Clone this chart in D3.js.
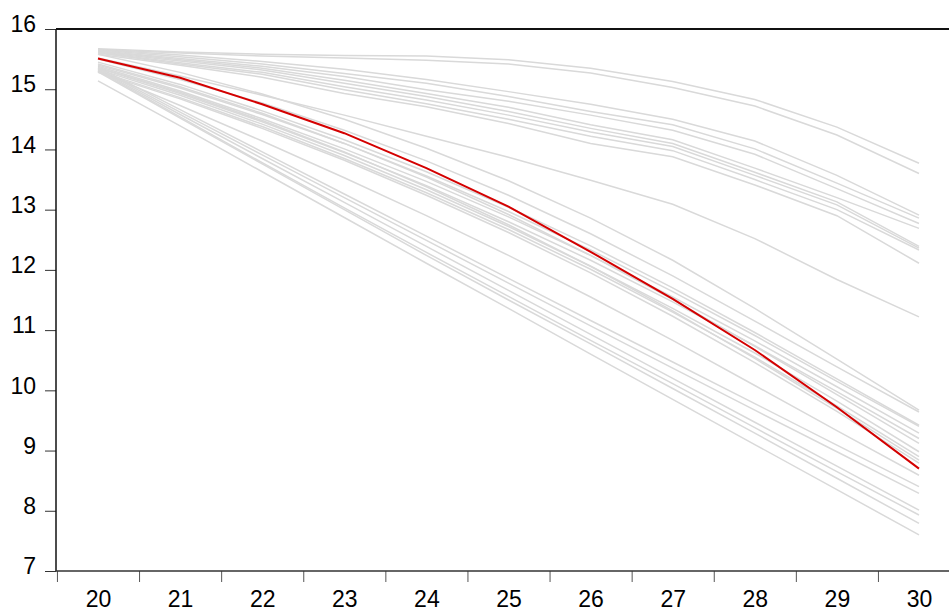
<!DOCTYPE html>
<html>
<head>
<meta charset="utf-8">
<script src="https://cdn.jsdelivr.net/npm/d3@7"></script>
<style>
  body { margin: 0; background: #fff; }
  svg text { font-family: "Liberation Sans", Arial, sans-serif; }
</style>
</head>
<body>
<div id="chart"></div>
<script>
// x categories and y tick labels
const years = [20, 21, 22, 23, 24, 25, 26, 27, 28, 29, 30]
const yTickValues = [7, 8, 9, 10, 11, 12, 13, 14, 15, 16]

// highlighted path (red)
const mainPath = [15.51, 15.19, 14.75, 14.27, 13.69, 13.05, 12.30, 11.52, 10.67, 9.72, 8.70]

// slow-declining paths (top bundle)
const upperPaths = [
  [15.67, 15.62, 15.58, 15.56, 15.55, 15.49, 15.35, 15.13, 14.83, 14.37, 13.77],
  [15.66, 15.60, 15.55, 15.52, 15.48, 15.42, 15.27, 15.03, 14.72, 14.24, 13.60],
  [15.66, 15.57, 15.46, 15.33, 15.16, 14.96, 14.75, 14.50, 14.14, 13.57, 12.91],
  [15.65, 15.54, 15.42, 15.26, 15.10, 14.88, 14.63, 14.41, 14.01, 13.44, 12.86],
  [15.64, 15.51, 15.38, 15.21, 14.99, 14.80, 14.57, 14.32, 13.92, 13.35, 12.77],
  [15.63, 15.49, 15.35, 15.15, 14.93, 14.70, 14.41, 14.16, 13.69, 13.20, 12.69],
  [15.62, 15.47, 15.32, 15.10, 14.88, 14.63, 14.35, 14.10, 13.62, 13.13, 12.39],
  [15.61, 15.44, 15.28, 15.04, 14.82, 14.57, 14.29, 14.05, 13.57, 13.08, 12.36],
  [15.60, 15.42, 15.25, 14.99, 14.76, 14.50, 14.22, 13.98, 13.50, 13.00, 12.33],
  [15.58, 15.40, 15.20, 14.93, 14.71, 14.43, 14.10, 13.88, 13.41, 12.90, 12.11],
  [15.52, 15.22, 14.90, 14.57, 14.22, 13.87, 13.49, 13.09, 12.52, 11.84, 11.22]
]

// fast-declining paths (bottom bundle)
const lowerPaths = [
  [15.58, 15.28, 14.92, 14.50, 14.02, 13.48, 12.86, 12.16, 11.36, 10.52, 9.67],
  [15.50, 15.16, 14.77, 14.32, 13.81, 13.24, 12.60, 11.90, 11.15, 10.39, 9.64],
  [15.45, 15.08, 14.64, 14.16, 13.63, 13.04, 12.40, 11.70, 10.96, 10.19, 9.42],
  [15.40, 15.02, 14.58, 14.10, 13.56, 12.97, 12.33, 11.64, 10.91, 10.15, 9.40],
  [15.38, 14.97, 14.51, 14.01, 13.47, 12.88, 12.24, 11.55, 10.82, 10.06, 9.29],
  [15.35, 14.93, 14.46, 13.95, 13.40, 12.80, 12.16, 11.47, 10.74, 9.98, 9.20],
  [15.42, 15.04, 14.60, 14.10, 13.54, 12.92, 12.24, 11.51, 10.73, 9.93, 9.12],
  [15.33, 14.90, 14.42, 13.90, 13.33, 12.72, 12.06, 11.36, 10.62, 9.82, 8.98],
  [15.30, 14.86, 14.38, 13.85, 13.28, 12.67, 12.01, 11.30, 10.55, 9.74, 8.90],
  [15.36, 14.95, 14.48, 13.96, 13.38, 12.75, 12.06, 11.32, 10.53, 9.70, 8.84],
  [15.28, 14.84, 14.35, 13.82, 13.24, 12.62, 11.95, 11.23, 10.46, 9.65, 8.79],
  [15.30, 14.73, 14.14, 13.53, 12.90, 12.24, 11.55, 10.83, 10.08, 9.33, 8.59],
  [15.36, 14.66, 13.96, 13.26, 12.56, 11.86, 11.16, 10.47, 9.78, 9.09, 8.40],
  [15.34, 14.62, 13.91, 13.20, 12.49, 11.78, 11.07, 10.37, 9.67, 8.98, 8.29],
  [15.32, 14.58, 13.85, 13.12, 12.39, 11.66, 10.93, 10.20, 9.47, 8.74, 8.01],
  [15.31, 14.54, 13.78, 13.03, 12.29, 11.56, 10.83, 10.11, 9.38, 8.65, 7.93],
  [15.29, 14.52, 13.76, 13.00, 12.24, 11.50, 10.77, 10.03, 9.29, 8.54, 7.79],
  [15.14, 14.39, 13.63, 12.87, 12.11, 11.36, 10.60, 9.85, 9.10, 8.35, 7.60]
]

const width = 949
const height = 612
const plot = { left: 56, right: 949, top: 29, bottom: 571 }

const svg = d3.select("#chart")
  .append("svg")
  .attr("width", width)
  .attr("height", height)
  .style("background-color", "#fff")

const x = d3.scaleLinear().domain([20, 30]).range([98, 919])
const y = d3.scaleLinear().domain([7, 16]).range([plot.bottom, plot.top])

const line = d3.line()
  .x((d, i) => x(years[i]))
  .y(d => y(d))

// grey paths first, red on top
svg.append("g")
  .selectAll("path")
  .data(upperPaths.concat(lowerPaths))
  .enter()
  .append("path")
  .attr("d", line)
  .attr("fill", "none")
  .attr("stroke", "#d9d9d9")
  .attr("stroke-width", 1.5)

svg.append("path")
  .attr("d", line(mainPath))
  .attr("fill", "none")
  .attr("stroke", "#d40000")
  .attr("stroke-width", 2)

// y axis
const yAxis = svg.append("g")
  .attr("transform", `translate(${plot.left},0)`)
  .call(d3.axisLeft(y).tickValues(yTickValues).tickSize(11).tickPadding(9))
yAxis.select(".domain").remove()
yAxis.selectAll("line").attr("stroke", "#333")
yAxis.selectAll("text")
  .attr("dy", "0.12em")
  .style("font-size", "23px")
  .attr("fill", "#000")

// x axis: ticks between categories, labels under each category
const xTicks = svg.append("g")
  .attr("transform", `translate(0,${plot.bottom})`)
  .call(d3.axisBottom(x).tickValues(years.map(d => d - 0.5)).tickSize(11).tickFormat(""))
xTicks.select(".domain").remove()
xTicks.selectAll("line").attr("stroke", "#555")

const xLabels = svg.append("g")
  .attr("transform", `translate(0,${plot.bottom})`)
  .call(d3.axisBottom(x).tickValues(years).tickSize(0).tickPadding(0))
xLabels.select(".domain").remove()
xLabels.selectAll("text")
  .attr("y", 36)
  .attr("dy", 0)
  .style("font-size", "23px")
  .attr("fill", "#000")

// frame: left, top, bottom
svg.append("line")
  .attr("x1", plot.left).attr("x2", plot.left)
  .attr("y1", plot.top).attr("y2", plot.bottom)
  .attr("stroke", "#111").attr("stroke-width", 1.5)
svg.append("line")
  .attr("x1", plot.left).attr("x2", plot.right)
  .attr("y1", plot.top).attr("y2", plot.top)
  .attr("stroke", "#111").attr("stroke-width", 2)
svg.append("line")
  .attr("x1", plot.left).attr("x2", plot.right)
  .attr("y1", plot.bottom).attr("y2", plot.bottom)
  .attr("stroke", "#333").attr("stroke-width", 1.5)
</script>
</body>
</html>
